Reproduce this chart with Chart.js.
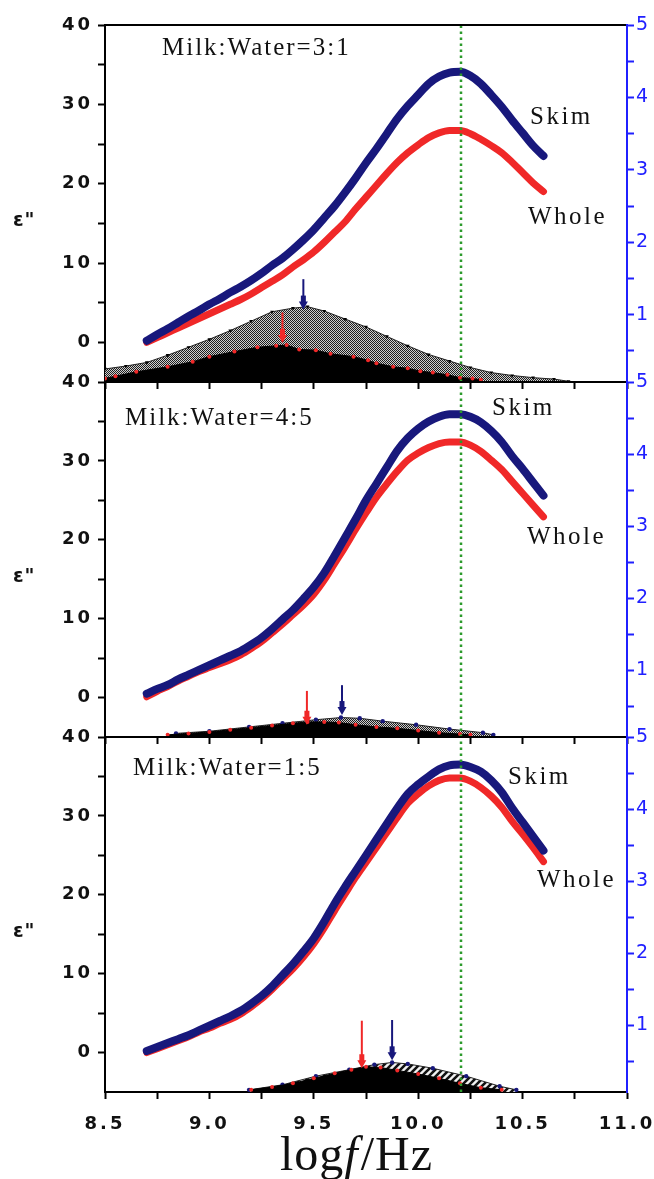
<!DOCTYPE html>
<html>
<head>
<meta charset="utf-8">
<script src="https://cdn.jsdelivr.net/npm/chart.js@4.4.1/dist/chart.umd.min.js"></script>
<style>
  html, body { margin: 0; padding: 0; background: #fff; }
  #wrap { position: relative; width: 654px; height: 1179px; overflow: hidden; background: #fff; }
  #wrap canvas { position: absolute; left: 0; top: 0; }
</style>
</head>
<body>
<div id="wrap">
  <canvas id="p1" width="654" height="1179"></canvas>
  <canvas id="p2" width="654" height="1179"></canvas>
  <canvas id="p3" width="654" height="1179"></canvas>
</div>
<script>
// ---- measured loss spectra: log f (Hz) and ε'' ----
const logF = [8.70, 8.75, 8.80, 8.85, 8.90, 8.95, 9.00, 9.05, 9.10, 9.15,
              9.20, 9.25, 9.30, 9.35, 9.40, 9.45, 9.50, 9.55, 9.60, 9.65,
              9.70, 9.75, 9.80, 9.85, 9.90, 9.95, 10.00, 10.05, 10.10, 10.15,
              10.20, 10.25, 10.30, 10.35, 10.40, 10.45, 10.50, 10.55, 10.60];

// Milk:Water = 3:1
const skim31  = [0.2, 1.0, 1.7, 2.5, 3.3, 4.0, 4.8, 5.5, 6.3, 7.0,
                 7.8, 8.7, 9.7, 10.6, 11.7, 12.9, 14.2, 15.7, 17.2, 18.9,
                 20.7, 22.6, 24.4, 26.3, 28.2, 29.8, 31.2, 32.6, 33.5, 34.0,
                 34.1, 33.6, 32.6, 31.2, 29.7, 28.0, 26.4, 24.8, 23.5];
const whole31 = [0.0, 0.6, 1.2, 1.8, 2.4, 3.0, 3.6, 4.2, 4.8, 5.4,
                 6.1, 6.9, 7.7, 8.5, 9.5, 10.4, 11.4, 12.6, 13.9, 15.2,
                 16.8, 18.3, 19.8, 21.3, 22.7, 23.9, 24.9, 25.8, 26.4, 26.7,
                 26.7, 26.3, 25.6, 24.8, 23.9, 22.7, 21.4, 20.1, 19.0];
// Milk:Water = 4:5
const skim45  = [0.5, 1.1, 1.6, 2.3, 2.9, 3.5, 4.1, 4.7, 5.3, 5.9,
                 6.7, 7.6, 8.7, 9.9, 11.1, 12.5, 14.0, 15.8, 18.0, 20.3,
                 22.6, 25.0, 27.1, 29.2, 31.3, 32.9, 34.1, 35.0, 35.6, 35.9,
                 35.9, 35.6, 34.9, 33.8, 32.4, 30.6, 29.0, 27.3, 25.6];
const whole45 = [0.1, 0.8, 1.4, 2.1, 2.7, 3.3, 3.8, 4.3, 4.8, 5.4,
                 6.2, 7.1, 8.2, 9.3, 10.5, 11.7, 13.1, 14.9, 17.0, 19.1,
                 21.3, 23.4, 25.4, 27.1, 28.7, 30.1, 31.0, 31.7, 32.2, 32.4,
                 32.4, 32.0, 31.2, 30.1, 28.9, 27.4, 25.9, 24.4, 22.9];
// Milk:Water = 1:5
const skim15  = [0.2, 0.7, 1.2, 1.7, 2.2, 2.8, 3.4, 4.0, 4.6, 5.3,
                 6.2, 7.2, 8.4, 9.8, 11.2, 12.8, 14.5, 16.6, 18.9, 21.0,
                 23.0, 25.0, 27.0, 29.0, 31.0, 32.8, 34.0, 35.0, 35.9, 36.4,
                 36.5, 36.2, 35.6, 34.5, 33.0, 31.0, 29.2, 27.4, 25.6];
const whole15 = [0.0, 0.5, 1.0, 1.5, 2.0, 2.6, 3.1, 3.7, 4.2, 4.9,
                 5.8, 6.8, 8.0, 9.3, 10.6, 12.1, 13.8, 15.8, 18.0, 20.1,
                 22.2, 24.1, 26.0, 27.9, 29.8, 31.6, 32.8, 33.8, 34.5, 34.8,
                 34.8, 34.4, 33.6, 32.5, 31.1, 29.3, 27.7, 26.0, 24.2];

// ---- relaxation distributions (right axis) ----
const distLogF31Skim  = [8.50, 8.60, 8.70, 8.80, 8.90, 9.00, 9.10, 9.20, 9.30, 9.40, 9.47, 9.55,
                         9.65, 9.75, 9.85, 9.95, 10.05, 10.15, 10.25, 10.35, 10.45, 10.55, 10.65, 10.72];
const dist31Skim      = [0.25, 0.29, 0.34, 0.44, 0.55, 0.66, 0.78, 0.91, 1.04, 1.09, 1.11, 1.05,
                         0.94, 0.83, 0.70, 0.57, 0.45, 0.36, 0.27, 0.20, 0.16, 0.13, 0.11, 0.08];
const distLogF31Whole = [8.50, 8.55, 8.65, 8.80, 8.92, 9.00, 9.12, 9.23, 9.32, 9.37, 9.43, 9.51,
                         9.58, 9.69, 9.76, 9.80, 9.88, 9.95, 10.01, 10.07, 10.14, 10.20, 10.26, 10.30];
const dist31Whole     = [0.12, 0.15, 0.21, 0.28, 0.35, 0.42, 0.49, 0.55, 0.57, 0.58, 0.52, 0.51,
                         0.46, 0.42, 0.37, 0.33, 0.28, 0.26, 0.22, 0.20, 0.17, 0.13, 0.12, 0.10];

const distLogF45Skim  = [8.84, 9.00, 9.19, 9.35, 9.51, 9.63, 9.72, 9.83, 9.99, 10.15, 10.31, 10.36];
const dist45Skim      = [0.12, 0.15, 0.21, 0.26, 0.31, 0.34, 0.33, 0.29, 0.24, 0.18, 0.13, 0.10];
const distLogF45Whole = [8.80, 8.90, 9.00, 9.10, 9.20, 9.30, 9.40, 9.47, 9.55, 9.62, 9.70, 9.80,
                         9.90, 10.00, 10.10, 10.20, 10.25];
const dist45Whole     = [0.10, 0.12, 0.14, 0.17, 0.20, 0.23, 0.26, 0.28, 0.28, 0.27, 0.24, 0.21,
                         0.19, 0.16, 0.13, 0.11, 0.10];

const distLogF15Skim  = [9.19, 9.35, 9.51, 9.67, 9.79, 9.875, 9.95, 10.07, 10.23, 10.39, 10.47];
const dist15Skim      = [0.10, 0.17, 0.29, 0.38, 0.45, 0.48, 0.46, 0.40, 0.29, 0.15, 0.10];
const distLogF15Whole = [9.20, 9.30, 9.40, 9.50, 9.60, 9.68, 9.75, 9.82, 9.90, 10.00, 10.10, 10.20, 10.30, 10.40];
const dist15Whole     = [0.10, 0.14, 0.19, 0.26, 0.33, 0.38, 0.42, 0.41, 0.37, 0.32, 0.26, 0.19, 0.13, 0.10];

// distribution peak markers: [skim, whole]
const arrowLogF31 = [9.45, 9.35],  arrowTop31 = [1.49, 1.03], arrowTip31 = [1.07, 0.61];
const arrowLogF45 = [9.635, 9.467], arrowTop45 = [0.79, 0.71], arrowTip45 = [0.375, 0.24];
const arrowLogF15 = [9.875, 9.73], arrowTop15 = [1.07, 1.06], arrowTip15 = [0.51, 0.40];

// loss-peak position
const peakLogF = 10.205;

// ---- axis ticks ----
const logFTicks  = [8.5, 8.75, 9.0, 9.25, 9.5, 9.75, 10.0, 10.25, 10.5, 10.75, 11.0];
const epsTicks   = [0, 5, 10, 15, 20, 25, 30, 35, 40];
const rightTicks = [0.5, 1, 1.5, 2, 2.5, 3, 3.5, 4, 4.5, 5];

const NAVY = '#18187c', RED = '#f02828', GREEN = '#2b9a2b', AXBLUE = '#2020ff';

const zip = (xs, ys) => xs.map((x, i) => ({ x: x, y: ys[i] }));

function checkerPattern(ctx) {
  const t = document.createElement('canvas');
  t.width = 2; t.height = 2;
  const g = t.getContext('2d');
  g.fillStyle = '#cfcfcf'; g.fillRect(0, 0, 2, 2);
  g.fillStyle = '#1e1e1e'; g.fillRect(0, 0, 1, 1); g.fillRect(1, 1, 1, 1);
  return ctx.createPattern(t, 'repeat');
}
function hatchPattern(ctx) {
  const s = 7;
  const t = document.createElement('canvas');
  t.width = s; t.height = s;
  const g = t.getContext('2d');
  g.fillStyle = '#f2f2f2'; g.fillRect(0, 0, s, s);
  g.strokeStyle = '#111'; g.lineWidth = 2.6;
  g.beginPath();
  for (const k of [-s, 0, s]) { g.moveTo(k - 1, s + 1); g.lineTo(k + s + 1, -1); }
  g.stroke();
  return ctx.createPattern(t, 'repeat');
}

function drawText(ctx, str, x, y, font, spacing, color) {
  ctx.save();
  ctx.font = font;
  ctx.letterSpacing = spacing + 'px';
  ctx.fillStyle = color;
  ctx.textAlign = 'left';
  ctx.textBaseline = 'middle';
  ctx.fillText(str, x, y);
  ctx.restore();
}

function drawArrow(ctx, x, y0, y1, color) {
  ctx.save();
  ctx.strokeStyle = color; ctx.fillStyle = color; ctx.lineWidth = 2;
  ctx.beginPath(); ctx.moveTo(x, y0); ctx.lineTo(x, y1 - 6); ctx.stroke();
  ctx.fillRect(x - 2.5, y1 - 14, 5, 7);
  ctx.beginPath();
  ctx.moveTo(x - 4.5, y1 - 8); ctx.lineTo(x + 4.5, y1 - 8); ctx.lineTo(x, y1);
  ctx.closePath(); ctx.fill();
  ctx.restore();
}

const panelDecor = {
  id: 'panelDecor',
  beforeDraw(chart) {
    chart.ctx.letterSpacing = '3px';
  },
  afterDatasetsDraw(chart, args, o) {
    const { ctx, scales } = chart;
    const colors = [NAVY, RED];
    for (let i = 0; i < 2; i++) {
      const x = scales.x.getPixelForValue(o.arrowLogF[i]);
      drawArrow(ctx, x, scales.y2.getPixelForValue(o.arrowTop[i]),
                scales.y2.getPixelForValue(o.arrowTip[i]), colors[i]);
    }
  },
  afterDraw(chart, args, o) {
    const { ctx, chartArea: a } = chart;
    ctx.save();
    ctx.letterSpacing = '0px';
    // top frame line
    ctx.strokeStyle = '#000'; ctx.lineWidth = 2;
    ctx.beginPath(); ctx.moveTo(a.left, a.top); ctx.lineTo(a.right - 1, a.top); ctx.stroke();
    ctx.restore();

    const serif = '25px "Liberation Serif"';
    drawText(ctx, o.title, o.titlePos[0], o.titlePos[1], serif, 2, '#111');
    drawText(ctx, 'Skim', o.skimPos[0], o.skimPos[1], serif, 2.5, '#111');
    drawText(ctx, 'Whole', o.wholePos[0], o.wholePos[1], serif, 2.5, '#111');
    // axis quantity
    drawText(ctx, 'ε"', 13, a.top + 0.55 * (a.bottom - a.top), 'bold 19px "DejaVu Sans"', 1, '#111');

    if (o.showXTitle) {
      ctx.save();
      ctx.letterSpacing = '1px';
      ctx.fillStyle = '#111';
      ctx.textBaseline = 'alphabetic';
      ctx.textAlign = 'left';
      let x = 280; const y = 1170;
      ctx.font = '48px "Liberation Serif"';
      ctx.fillText('log', x, y); x += ctx.measureText('log').width;
      ctx.font = 'italic 48px "Liberation Serif"';
      ctx.fillText('f', x, y); x += ctx.measureText('f').width + 2;
      ctx.font = '48px "Liberation Serif"';
      ctx.fillText('/Hz', x, y);
      ctx.restore();
    }
  }
};

// fixed axis boxes so that every panel shares the same plot frame
function fixBox(w, h) {
  return s => {
    if (w !== null) s.width = w;
    if (h !== null) s.height = h;
    s.paddingLeft = 0; s.paddingRight = 0; s.paddingTop = 0; s.paddingBottom = 0;
  };
}

function makePanel(id, cfg) {
  const canvas = document.getElementById(id);
  const ctx = canvas.getContext('2d');
  const skimFill = cfg.hatch ? hatchPattern(ctx) : checkerPattern(ctx);
  const xh = cfg.showXLabels ? 60 : 20;
  return new Chart(ctx, {
    type: 'line',
    data: {
      datasets: [
        { data: [{ x: peakLogF, y: -5 }, { x: peakLogF, y: 40 }], yAxisID: 'y',
          borderColor: GREEN, borderWidth: 2.5, borderDash: [2.5, 3.5], pointRadius: 0 },
        { data: zip(logF, cfg.skim), yAxisID: 'y', borderColor: NAVY, borderWidth: 8,
          pointRadius: 0, cubicInterpolationMode: 'monotone', borderCapStyle: 'round', borderJoinStyle: 'round' },
        { data: zip(logF, cfg.whole), yAxisID: 'y', borderColor: RED, borderWidth: 7,
          pointRadius: 0, cubicInterpolationMode: 'monotone', borderCapStyle: 'round', borderJoinStyle: 'round' },
        { data: zip(cfg.distWholeX, cfg.distWhole), yAxisID: 'y2', fill: 'origin',
          backgroundColor: '#000', borderColor: '#000', borderWidth: 1,
          pointRadius: 2, pointBackgroundColor: RED, pointBorderWidth: 0 },
        { data: zip(cfg.distSkimX, cfg.distSkim), yAxisID: 'y2', fill: 'origin',
          backgroundColor: skimFill, borderColor: '#222', borderWidth: 1,
          pointRadius: 2.2, pointStyle: cfg.skimPointStyle, rotation: 180,
          pointBackgroundColor: cfg.skimPointColor, pointBorderWidth: 0 }
      ]
    },
    options: {
      responsive: false,
      animation: false,
      events: [],
      layout: { padding: { left: 0, right: 0, top: cfg.top, bottom: 1179 - cfg.bottom - xh } },
      plugins: {
        legend: { display: false },
        tooltip: { enabled: false },
        panelDecor: {
          title: cfg.title, titlePos: cfg.titlePos, skimPos: cfg.skimPos, wholePos: cfg.wholePos,
          arrowLogF: cfg.arrowLogF, arrowTop: cfg.arrowTop, arrowTip: cfg.arrowTip,
          showXTitle: cfg.showXLabels
        }
      },
      scales: {
        x: {
          type: 'linear', position: 'bottom', min: 8.5, max: 11.0,
          afterBuildTicks: s => { s.ticks = logFTicks.map(v => ({ value: v })); },
          afterFit: fixBox(null, xh),
          ticks: {
            autoSkip: false, maxRotation: 0, padding: 15, color: '#111',
            font: { family: 'DejaVu Sans', weight: 'bold', size: 18 },
            callback: v => (cfg.showXLabels && Math.abs(v * 2 - Math.round(v * 2)) < 1e-6) ? v.toFixed(1) : ''
          },
          grid: { drawOnChartArea: false, tickLength: 7, tickWidth: 2, tickColor: '#000' },
          border: { color: '#000', width: 2 }
        },
        y: {
          type: 'linear', position: 'left', min: -5, max: 40,
          afterBuildTicks: s => { s.ticks = epsTicks.map(v => ({ value: v })); },
          afterFit: fixBox(105, null),
          ticks: {
            padding: 5, color: '#111',
            font: { family: 'DejaVu Sans', weight: 'bold', size: 18 },
            callback: v => (v % 10 === 0 ? String(v) : '')
          },
          grid: { drawOnChartArea: false, tickLength: 7, tickWidth: 2, tickColor: '#000' },
          border: { color: '#000', width: 2 }
        },
        y2: {
          type: 'linear', position: 'right', min: 0.07, max: 5,
          afterBuildTicks: s => { s.ticks = rightTicks.map(v => ({ value: v })); },
          afterFit: fixBox(27, null),
          ticks: {
            padding: 2, color: AXBLUE,
            font: { family: 'DejaVu Sans', size: 19 },
            callback: v => (Number.isInteger(v) ? String(v) : '')
          },
          grid: { drawOnChartArea: false, tickLength: 7, tickWidth: 2, tickColor: AXBLUE },
          border: { color: AXBLUE, width: 2 }
        }
      }
    },
    plugins: [panelDecor]
  });
}

makePanel('p1', {
  top: 25, bottom: 382, showXLabels: false, hatch: false,
  skim: skim31, whole: whole31,
  distSkimX: distLogF31Skim, distSkim: dist31Skim, distWholeX: distLogF31Whole, distWhole: dist31Whole,
  skimPointStyle: 'triangle', skimPointColor: '#000',
  arrowLogF: arrowLogF31, arrowTop: arrowTop31, arrowTip: arrowTip31,
  title: 'Milk:Water=3:1', titlePos: [162, 48], skimPos: [530, 117], wholePos: [528, 217]
});
makePanel('p2', {
  top: 382, bottom: 737, showXLabels: false, hatch: false,
  skim: skim45, whole: whole45,
  distSkimX: distLogF45Skim, distSkim: dist45Skim, distWholeX: distLogF45Whole, distWhole: dist45Whole,
  skimPointStyle: 'circle', skimPointColor: NAVY,
  arrowLogF: arrowLogF45, arrowTop: arrowTop45, arrowTip: arrowTip45,
  title: 'Milk:Water=4:5', titlePos: [125, 418], skimPos: [492, 408], wholePos: [527, 537]
});
makePanel('p3', {
  top: 737, bottom: 1092, showXLabels: true, hatch: true,
  skim: skim15, whole: whole15,
  distSkimX: distLogF15Skim, distSkim: dist15Skim, distWholeX: distLogF15Whole, distWhole: dist15Whole,
  skimPointStyle: 'circle', skimPointColor: NAVY,
  arrowLogF: arrowLogF15, arrowTop: arrowTop15, arrowTip: arrowTip15,
  title: 'Milk:Water=1:5', titlePos: [133, 768], skimPos: [508, 777], wholePos: [537, 880]
});
</script>
</body>
</html>
